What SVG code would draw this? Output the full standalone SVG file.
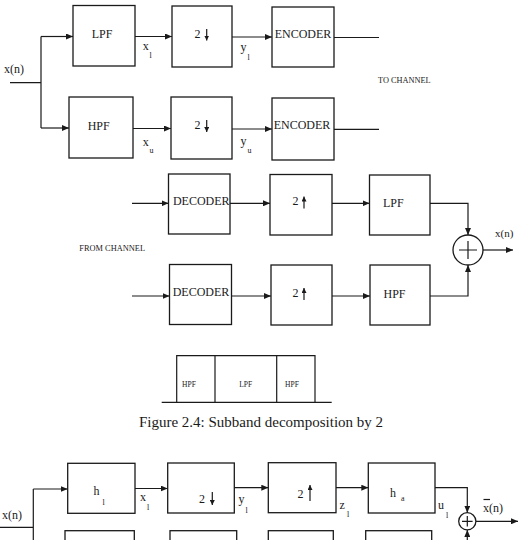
<svg xmlns="http://www.w3.org/2000/svg" width="520" height="540" viewBox="0 0 520 540">
<style>
.box{fill:none;stroke:#1a1a1a;stroke-width:1.3}
.ln{fill:none;stroke:#1a1a1a;stroke-width:1.2}
.t{font-family:"Liberation Serif","Times New Roman",serif;fill:#1a1a1a}
.lb{font-size:12px}
.sm{font-size:8px}
.tiny{font-size:7.5px}
.cap{font-size:15px}
</style>
<defs>
<marker id="ah" markerWidth="7" markerHeight="6" refX="7" refY="3" orient="auto" markerUnits="userSpaceOnUse">
<path d="M0,0 L7,3 L0,6 z" fill="#1a1a1a"/>
</marker>
<marker id="ahs" markerWidth="5" markerHeight="5" refX="5" refY="2.5" orient="auto" markerUnits="userSpaceOnUse">
<path d="M0,0 L5,2.5 L0,5 z" fill="#1a1a1a"/>
</marker>
</defs>
<rect width="520" height="540" fill="#fff"/>

<g id="connectors">
<path class="ln" d="M10,82.7 H41 M41,36.5 V128"/>
<path class="ln" d="M41,36.5 H73" marker-end="url(#ah)"/>
<path class="ln" d="M41,128 H69" marker-end="url(#ah)"/>
<path class="ln" d="M135,36.5 H172" marker-end="url(#ah)"/>
<path class="ln" d="M232,37 H272" marker-end="url(#ah)"/>
<path class="ln" d="M334,37.5 H379"/>
<path class="ln" d="M133,128.5 H171" marker-end="url(#ah)"/>
<path class="ln" d="M232,129 H272" marker-end="url(#ah)"/>
<path class="ln" d="M334,129.3 H379"/>
<path class="ln" d="M132,203.3 H168.5" marker-end="url(#ah)"/>
<path class="ln" d="M230,203.3 H270" marker-end="url(#ah)"/>
<path class="ln" d="M332,203.3 H369.5" marker-end="url(#ah)"/>
<path class="ln" d="M430,203.3 H468 V235" marker-end="url(#ah)"/>
<path class="ln" d="M132,296 H169.5" marker-end="url(#ah)"/>
<path class="ln" d="M231.5,296 H271" marker-end="url(#ah)"/>
<path class="ln" d="M332,296 H370" marker-end="url(#ah)"/>
<path class="ln" d="M430,296 H468 V265" marker-end="url(#ah)"/>
<path class="ln" d="M483,250 H513" marker-end="url(#ah)"/>

<path class="ln" d="M0,527.3 H33.3 M33.3,489 V545"/>
<path class="ln" d="M33.3,489 H67.7" marker-end="url(#ah)"/>
<path class="ln" d="M135,488.5 H167.7" marker-end="url(#ah)"/>
<path class="ln" d="M234.3,487.7 H268.3" marker-end="url(#ah)"/>
<path class="ln" d="M336,487.7 H368.3" marker-end="url(#ah)"/>
<path class="ln" d="M435,487.7 H467.3 V512.7" marker-end="url(#ah)"/>
<path class="ln" d="M476,521.3 H518" marker-end="url(#ah)"/>
<path class="ln" d="M467.3,545 V530" marker-end="url(#ah)"/>
</g>

<g id="input-label"><text class="t lb" x="4" y="73">x(n)</text></g>

<g id="lpf-analysis"><rect class="box" x="73" y="5.5" width="62" height="60.5"/><text class="t lb" x="102" y="37.5" text-anchor="middle">LPF</text></g>
<g id="down-top"><rect class="box" x="172" y="6" width="60" height="61"/><text class="t lb" x="197.5" y="37.5" text-anchor="middle">2</text><path class="ln" d="M206.7,29 V40.5" marker-end="url(#ahs)"/></g>
<g id="encoder-top"><rect class="box" x="272" y="7" width="62" height="60"/><text class="t lb" x="303" y="37.5" text-anchor="middle">ENCODER</text></g>
<g id="hpf-analysis"><rect class="box" x="69" y="97" width="64" height="61"/><text class="t lb" x="98.7" y="130" text-anchor="middle">HPF</text></g>
<g id="down-bottom"><rect class="box" x="171" y="97" width="61" height="62"/><text class="t lb" x="197.5" y="128.5" text-anchor="middle">2</text><path class="ln" d="M206.7,120 V132" marker-end="url(#ahs)"/></g>
<g id="encoder-bottom"><rect class="box" x="272" y="98" width="62" height="62"/><text class="t lb" x="302" y="129" text-anchor="middle">ENCODER</text></g>

<g id="signal-labels-top">
<text class="t lb" x="142.7" y="50">x</text><text class="t sm" x="149.5" y="58">l</text>
<text class="t lb" x="240.5" y="51">y</text><text class="t sm" x="247.5" y="60">l</text>
<text class="t lb" x="142.7" y="146">x</text><text class="t sm" x="149.5" y="153">u</text>
<text class="t lb" x="240.5" y="145">y</text><text class="t sm" x="247.5" y="153">u</text>
</g>
<g id="to-channel"><text class="t" x="378" y="83" font-size="8.3" textLength="52.7" lengthAdjust="spacingAndGlyphs">TO CHANNEL</text></g>
<g id="from-channel"><text class="t" x="79.3" y="250.5" font-size="8.3" textLength="65.7" lengthAdjust="spacingAndGlyphs">FROM CHANNEL</text></g>

<g id="decoder-top"><rect class="box" x="168.5" y="174" width="61.5" height="60"/><text class="t lb" x="201.3" y="205" text-anchor="middle">DECODER</text></g>
<g id="up-top"><rect class="box" x="270" y="174.5" width="62" height="60.5"/><text class="t lb" x="295.5" y="205" text-anchor="middle">2</text><path class="ln" d="M304,208.5 V196.5" marker-end="url(#ahs)"/></g>
<g id="lpf-synthesis"><rect class="box" x="369.5" y="175" width="60.5" height="60"/><text class="t lb" x="393.3" y="207" text-anchor="middle">LPF</text></g>
<g id="decoder-bottom"><rect class="box" x="169.5" y="264.5" width="62" height="60"/><text class="t lb" x="201" y="296" text-anchor="middle">DECODER</text></g>
<g id="up-bottom"><rect class="box" x="271" y="265" width="61" height="60"/><text class="t lb" x="295.5" y="296.5" text-anchor="middle">2</text><path class="ln" d="M304,300 V288" marker-end="url(#ahs)"/></g>
<g id="hpf-synthesis"><rect class="box" x="370" y="265" width="60" height="60"/><text class="t lb" x="394.5" y="298" text-anchor="middle">HPF</text></g>
<g id="sum-top"><circle class="box" cx="468" cy="250" r="15"/><path class="ln" d="M459,250 H477 M468,241 V259"/></g>
<g id="output-label"><text class="t" x="495" y="237" font-size="11">x(n)</text></g>

<g id="spectrum">
<path class="ln" d="M161.7,402.3 H331.7 M176.7,402.3 V355.7 H315 V402.3 M215,355.7 V402.3 M276.7,355.7 V402.3"/>
<text class="t tiny" x="189" y="387" text-anchor="middle">HPF</text>
<text class="t tiny" x="245.7" y="387" text-anchor="middle">LPF</text>
<text class="t tiny" x="292" y="387" text-anchor="middle">HPF</text>
</g>

<g id="caption"><text class="t cap" x="261" y="427" text-anchor="middle">Figure 2.4: Subband decomposition by 2</text></g>

<g id="input-label-2"><text class="t lb" x="2" y="519">x(n)</text></g>
<g id="h-l"><rect class="box" x="67.7" y="463.3" width="67.3" height="50"/><text class="t lb" x="93.5" y="495">h</text><text class="t sm" x="102.5" y="505">l</text></g>
<g id="down-2"><rect class="box" x="167.7" y="463" width="66.6" height="50"/><text class="t lb" x="202" y="503" text-anchor="middle">2</text><path class="ln" d="M212.3,492 V505" marker-end="url(#ahs)"/></g>
<g id="up-2"><rect class="box" x="268.3" y="462.7" width="67.7" height="50"/><text class="t lb" x="300.5" y="497.5" text-anchor="middle">2</text><path class="ln" d="M310,501 V485" marker-end="url(#ahs)"/></g>
<g id="h-a"><rect class="box" x="368.3" y="463" width="66.7" height="50"/><text class="t lb" x="390" y="496.5">h</text><text class="t sm" x="401" y="501">a</text></g>
<g id="h-lower"><rect class="box" x="65" y="530.7" width="69.3" height="20"/></g>
<g id="down-lower"><rect class="box" x="170" y="530.7" width="66.7" height="20"/></g>
<g id="up-lower"><rect class="box" x="268.3" y="530.7" width="65" height="20"/></g>
<g id="h-lower-2"><rect class="box" x="365.7" y="530.7" width="66" height="20"/></g>
<g id="sum-bottom"><circle class="box" cx="467.3" cy="521.3" r="8.6"/><path class="ln" d="M462,521.3 H472.6 M467.3,516 V526.6"/></g>
<g id="signal-labels-bottom">
<text class="t lb" x="140" y="501">x</text><text class="t sm" x="147" y="509.5">l</text>
<text class="t lb" x="238.5" y="503">y</text><text class="t sm" x="245.5" y="513">l</text>
<text class="t lb" x="339.5" y="509">z</text><text class="t sm" x="347" y="517">l</text>
<text class="t lb" x="438" y="509">u</text><text class="t sm" x="446" y="518">l</text>
<text class="t lb" x="483" y="512">x(n)</text><path class="ln" d="M483.5,499.5 H490"/>
</g>
</svg>
